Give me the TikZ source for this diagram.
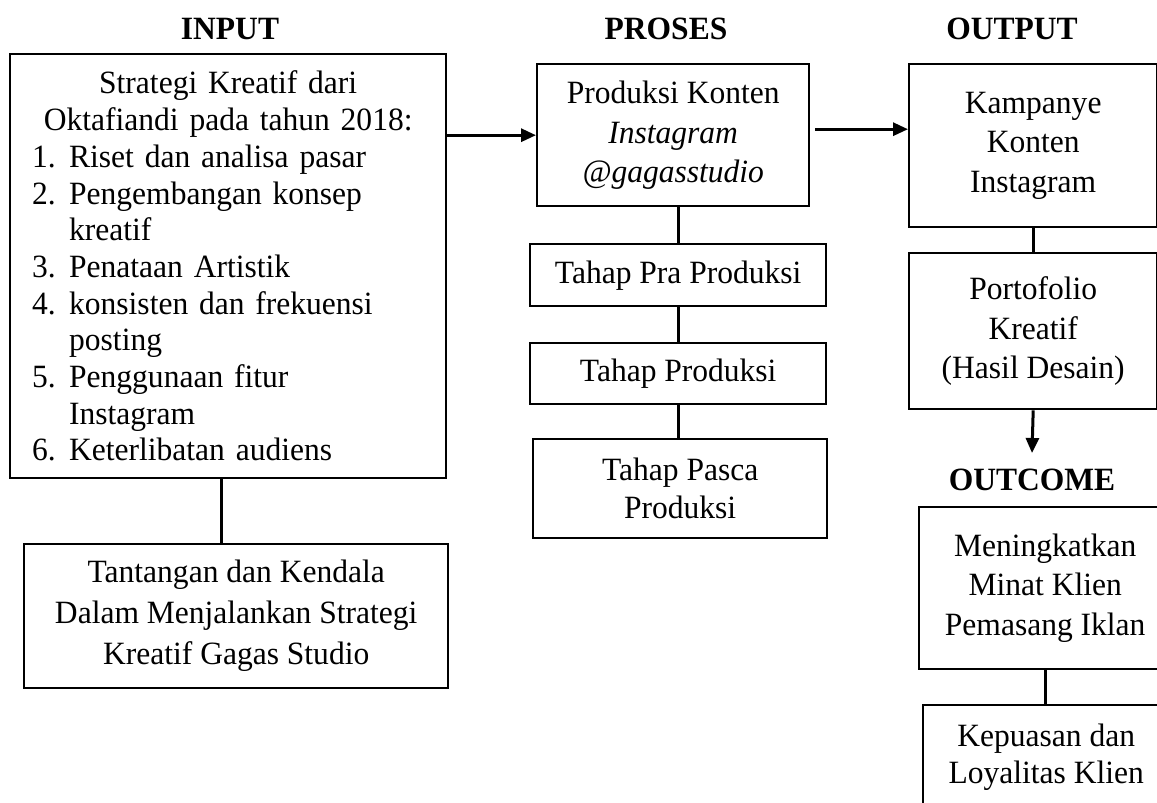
\documentclass[tikz,border=0pt]{standalone}
\usepackage{fontspec}
\setmainfont{Liberation Serif}[FakeStretch=0.97]
\usetikzlibrary{arrows.meta}
\newcommand\itm[2]{\makebox[\linewidth][l]{\hspace*{22pt}\makebox[37pt][l]{#1}#2}}
\newcommand\itc[1]{\makebox[\linewidth][l]{\hspace*{59pt}#1}}
\begin{document}
\begin{tikzpicture}[x=1pt,y=-1pt,
  box/.style={draw, line width=2.4pt, inner sep=0pt, align=center, anchor=north west,
    font=\fontsize{32.5}{39.5}\selectfont},
  head/.style={font=\fontsize{32.5}{36}\selectfont\bfseries, anchor=base, inner sep=0pt},
  link/.style={line width=3pt},
  arr/.style={line width=3pt, -{Triangle[length=15pt,width=13pt]}}]
\clip (0,0) rectangle (1157,803);
\fill[white] (0,0) rectangle (1157,803);

% headings
\node[head] (hin) at (230,39) {INPUT};
\node[head] (hpr) at (666,39) {PROSES};
\node[head] (hout) at (1012,39) {OUTPUT};
\node[head] (hoc) at (1032,490) {OUTCOME};

% input column
\node[box, minimum width=436pt, minimum height=424pt, text width=436pt,
  font=\fontsize{32.5}{36.7}\selectfont] (inp) at (9,53)
  {Strategi Kreatif dari\\
   Oktafiandi pada tahun 2018:\\
   \itm{1.}{Riset dan analisa pasar}\\
   \itm{2.}{Pengembangan konsep}\\
   \itc{kreatif}\\
   \itm{3.}{Penataan Artistik}\\
   \itm{4.}{konsisten dan frekuensi}\\
   \itc{posting}\\
   \itm{5.}{Penggunaan fitur}\\
   \itc{Instagram}\\
   \itm{6.}{Keterlibatan audiens}};
\node[box, minimum width=424pt, minimum height=144pt, font=\fontsize{32.5}{41}\selectfont] (tan) at (23,543)
  {Tantangan dan Kendala\\Dalam Menjalankan Strategi\\Kreatif Gagas Studio};

% proses column
\node[box, minimum width=272pt, minimum height=142pt] (pro) at (536,63)
  {Produksi Konten\\\textit{Instagram}\\\textit{@gagasstudio}};
\node[box, minimum width=296pt, minimum height=62pt] (pra) at (529,243) {Tahap Pra Produksi};
\node[box, minimum width=296pt, minimum height=61pt] (prod) at (529,342) {Tahap Produksi};
\node[box, minimum width=294pt, minimum height=99pt, font=\fontsize{32.5}{38}\selectfont] (pas) at (532,438)
  {Tahap Pasca\\Produksi};

% output column
\node[box, minimum width=248pt, minimum height=163pt] (kam) at (908,63)
  {Kampanye\\Konten\\Instagram};
\node[box, minimum width=248pt, minimum height=156pt] (por) at (908,252)
  {Portofolio\\Kreatif\\(Hasil Desain)};

% outcome column
\node[box, minimum width=252pt, minimum height=162pt] (men) at (918,506)
  {Meningkatkan\\Minat Klien\\Pemasang Iklan};
\node[box, minimum width=246pt, minimum height=150pt, font=\fontsize{32.5}{37}\selectfont] (kep) at (922,704)
  {Kepuasan dan\\Loyalitas Klien\rule[-53pt]{0pt}{1pt}};

\coordinate (tip) at (1032,453);
\coordinate (a2s) at ([xshift=5pt,yshift=6pt]pro.east);

% connectors
\draw[link] ([xshift=-7pt]inp.south) -- ([xshift=-7pt]inp.south |- tan.north);
\draw[arr] (inp.east |- pro.west) -- (pro.west);
\draw[arr] (a2s) -- (kam.west |- a2s);
\draw[link] (pra.north |- pro.south) -- (pra.north);
\draw[link] (pra.south) -- (prod.north);
\draw[link] (prod.south) -- (prod.south |- pas.north);
\draw[link] (kam.south) -- (por.north);
\draw[arr] (por.south) -- (tip);
\draw[link] (men.south) -- (men.south |- kep.north);
\end{tikzpicture}
\end{document}
